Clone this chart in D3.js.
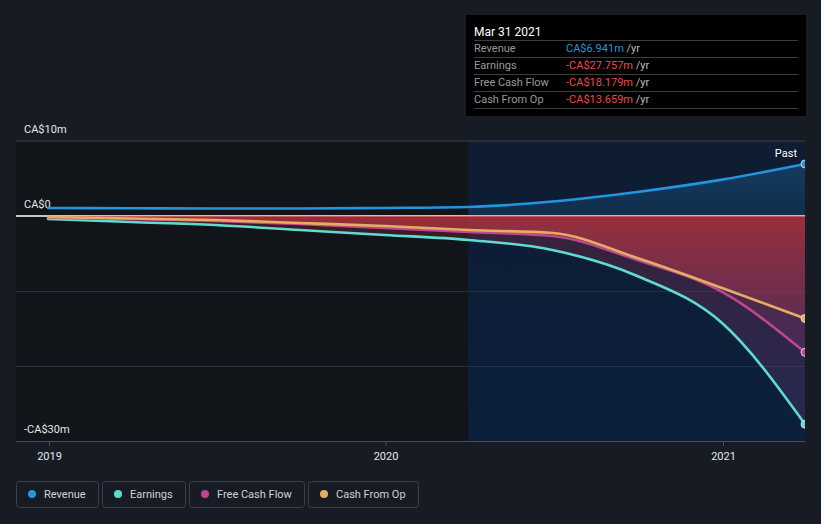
<!DOCTYPE html>
<html><head><meta charset="utf-8">
<script src="https://cdn.jsdelivr.net/npm/d3@7"></script>
<style>
html,body{margin:0;padding:0;background:#171b24;}
svg{display:block;font-family:Roboto,"Noto Sans",sans-serif;}
</style></head>
<body><svg id="c" width="821" height="524"></svg>
<script>
// ---- data (CA$ millions, trailing twelve months) ----
const dates = ["2018-12-31","2019-03-31","2019-06-30","2019-09-30","2019-12-31","2020-03-31","2020-06-30","2020-09-30","2020-12-31","2021-03-31"];
const revenue = [1.07, 1.04, 1.0, 1.0, 1.07, 1.2, 1.93, 3.2, 4.85, 6.941];
const earnings = [-0.4, -0.8, -1.2, -1.87, -2.53, -3.2, -4.53, -8.0, -14.27, -27.757];
const freeCashFlow = [-0.2, -0.4, -0.67, -1.07, -1.6, -2.13, -2.67, -5.87, -10.13, -18.179];
const cashFromOp = [-0.13, -0.33, -0.53, -0.93, -1.33, -1.87, -2.27, -5.6, -9.6, -13.659];
const seriesNames = ["Revenue","Earnings","Free Cash Flow","Cash From Op"];
const seriesColors = ["#2394df","#5fdcd2","#c0468f","#e3ae62"];
const yTickValues = [10, 0, -30];
const yTickLabels = ["CA$10m","CA$0","-CA$30m"];
const xTickYears = [2019, 2020, 2021];
const tooltipTitle = "Mar 31 2021";
const tooltipValues = ["CA$6.941m","-CA$27.757m","-CA$18.179m","-CA$13.659m"];

(function(){
const svg = d3.select("#c");
const parse = d3.timeParse("%Y-%m-%d");
const D = dates.map(parse);
const x = d3.scaleTime().domain([new Date(2019,0,1), new Date(2021,0,1)]).range([49,723]);
const y = d3.scaleLinear().domain([10,-30]).range([141,441]);
const pLeft = 16, pRight = x(parse("2021-03-31")), pTop = y(10), pBottom = y(-30);
const pastStart = x(parse("2020-03-31"));

const defs = svg.append("defs");
defs.append("clipPath").attr("id","plotclip").append("rect")
  .attr("x",pLeft).attr("y",0).attr("width",pRight-pLeft).attr("height",pBottom);
defs.append("clipPath").attr("id","pastclip").append("rect")
  .attr("x",pastStart).attr("y",pTop).attr("width",pRight-pastStart).attr("height",pBottom-pTop);

function lg(id, x1,y1,x2,y2, stops){
  const g = defs.append("linearGradient").attr("id",id).attr("gradientUnits","userSpaceOnUse")
    .attr("x1",x1).attr("y1",y1).attr("x2",x2).attr("y2",y2);
  stops.forEach(s=>g.append("stop").attr("offset",s[0]).attr("stop-color",s[1]).attr("stop-opacity",s[2]));
}
lg("pastbg", 0, pTop, 0, pBottom, [[0,"#0f1c31",1],[1,"#0b203d",1]]);
lg("revfill", 0, y(7), 0, y(0), [[0,"#2394df",0.26],[1,"#2394df",0.14]]);
lg("redfill", 0, y(0), 0, y(-30), [[0,"#c8363f",0.74],[0.45,"#b23a66",0.52],[1,"#9a3c8a",0.38]]);
lg("dimfill", 0, y(0), 0, y(-30), [[0,"#c0324a",0.24],[1,"#8c48a8",0.2]]);

svg.append("rect").attr("x",pLeft).attr("y",pTop).attr("width",pastStart-pLeft).attr("height",pBottom-pTop).attr("fill","#111419");
svg.append("rect").attr("x",pastStart).attr("y",pTop).attr("width",pRight-pastStart).attr("height",pBottom-pTop).attr("fill","url(#pastbg)");

svg.append("line").attr("x1",pLeft).attr("x2",pRight).attr("y1",y(10)).attr("y2",y(10)).attr("stroke","#3c404a").attr("stroke-width",1);
[-10,-20].forEach(v=>svg.append("line").attr("x1",pLeft).attr("x2",pRight).attr("y1",y(v)+0.5).attr("y2",y(v)+0.5).attr("stroke","#2a2f3c").attr("stroke-width",1));
svg.append("line").attr("x1",pLeft).attr("x2",pRight).attr("y1",y(0)).attr("y2",y(0)).attr("stroke","#ffffff").attr("stroke-width",1.3);

const xAxis = d3.axisBottom(x).tickValues(xTickYears.map(yy=>new Date(yy,0,1))).tickFormat(d3.timeFormat("%Y")).tickSize(5).tickPadding(6);
const gx = svg.append("g").attr("transform",`translate(0,${pBottom})`).call(xAxis);
gx.select(".domain").remove();
gx.selectAll(".tick line").attr("stroke","#4a4f5a");
gx.selectAll(".tick text").attr("fill","#e6e6e6").attr("font-size","11px").attr("font-family","Roboto,sans-serif");
svg.append("line").attr("x1",pLeft).attr("x2",pRight).attr("y1",pBottom+0.5).attr("y2",pBottom+0.5).attr("stroke","#4a4f5a").attr("stroke-width",1);

yTickValues.forEach((v,i)=>{
  svg.append("text").attr("x",24).attr("y",y(v)-8).attr("fill","#e6e6e6").attr("font-size","11px").text(yTickLabels[i]);
});

const plot = svg.append("g").attr("clip-path","url(#plotclip)");
const cm = d3.curveMonotoneX;
const pts = arr => arr.map((v,i)=>({d:D[i],v, i}));

plot.append("path").datum(pts(revenue)).attr("clip-path","url(#pastclip)")
  .attr("d", d3.area().curve(cm).x(p=>x(p.d)).y0(y(0)).y1(p=>y(p.v))).attr("fill","url(#revfill)");
plot.append("path").datum(pts(earnings))
  .attr("d", d3.area().curve(cm).x(p=>x(p.d)).y0(p=>y(cashFromOp[p.i])).y1(p=>y(p.v))).attr("fill","url(#dimfill)");
plot.append("path").datum(pts(freeCashFlow))
  .attr("d", d3.area().curve(cm).x(p=>x(p.d)).y0(p=>y(cashFromOp[p.i])).y1(p=>y(p.v))).attr("fill","url(#dimfill)");
plot.append("path").datum(pts(cashFromOp))
  .attr("d", d3.area().curve(cm).x(p=>x(p.d)).y0(y(0)).y1(p=>y(p.v))).attr("fill","url(#redfill)");

const line = d3.line().curve(cm).x(p=>x(p.d)).y(p=>y(p.v));
const order = [[earnings,1],[freeCashFlow,2],[cashFromOp,3],[revenue,0]];
order.forEach(([arr,k])=>{
  plot.append("path").datum(pts(arr)).attr("d",line).attr("fill","none")
    .attr("stroke",seriesColors[k]).attr("stroke-width",2.6).attr("stroke-linecap","round");
});
order.forEach(([arr,k])=>{
  const last = arr.length-1;
  plot.append("circle").attr("cx",x(D[last])).attr("cy",y(arr[last])).attr("r",4)
    .attr("fill",seriesColors[k]).attr("stroke","#d8dbe6").attr("stroke-width",1);
});

svg.append("text").attr("x",797).attr("y",157).attr("text-anchor","end").attr("fill","#ffffff").attr("font-size","11px").text("Past");

const tt = svg.append("g");
tt.append("rect").attr("x",466).attr("y",15).attr("width",340).attr("height",101).attr("fill","#000000");
tt.append("text").attr("x",474).attr("y",35.5).attr("fill","#ffffff").attr("font-size","12px").text(tooltipTitle);
[40.5,57.5,74.5,91.5,108.5].forEach(ly=>tt.append("line").attr("x1",474).attr("x2",798).attr("y1",ly).attr("y2",ly).attr("stroke","#3d3d3d").attr("stroke-width",1));
seriesNames.forEach((n,i)=>{
  const by = 52 + i*17;
  tt.append("text").attr("x",474).attr("y",by).attr("fill","#9a9a9a").attr("font-size","11px").text(n);
  const t = tt.append("text").attr("x",566).attr("y",by).attr("font-size","11px");
  t.append("tspan").attr("fill", i===0 ? "#2394df" : "#f04848").text(tooltipValues[i]);
  t.append("tspan").attr("fill","#bdbdbd").text(" /yr");
});

let lx = 16;
seriesNames.forEach((n,i)=>{
  const g = svg.append("g");
  const txt = g.append("text").attr("x",lx+28).attr("y",498).attr("fill","#d2d2d2").attr("font-size","11px").text(n);
  const w = txt.node().getComputedTextLength();
  const bw = Math.round(w + 40);
  g.insert("rect","text").attr("x",lx+0.5).attr("y",481.5).attr("width",bw).attr("height",26).attr("rx",3)
    .attr("fill","none").attr("stroke","#3a3f4b").attr("stroke-width",1);
  g.append("circle").attr("cx",lx+16).attr("cy",494).attr("r",4).attr("fill",seriesColors[i]);
  lx += bw + 4;
});
})();
</script></body></html>
